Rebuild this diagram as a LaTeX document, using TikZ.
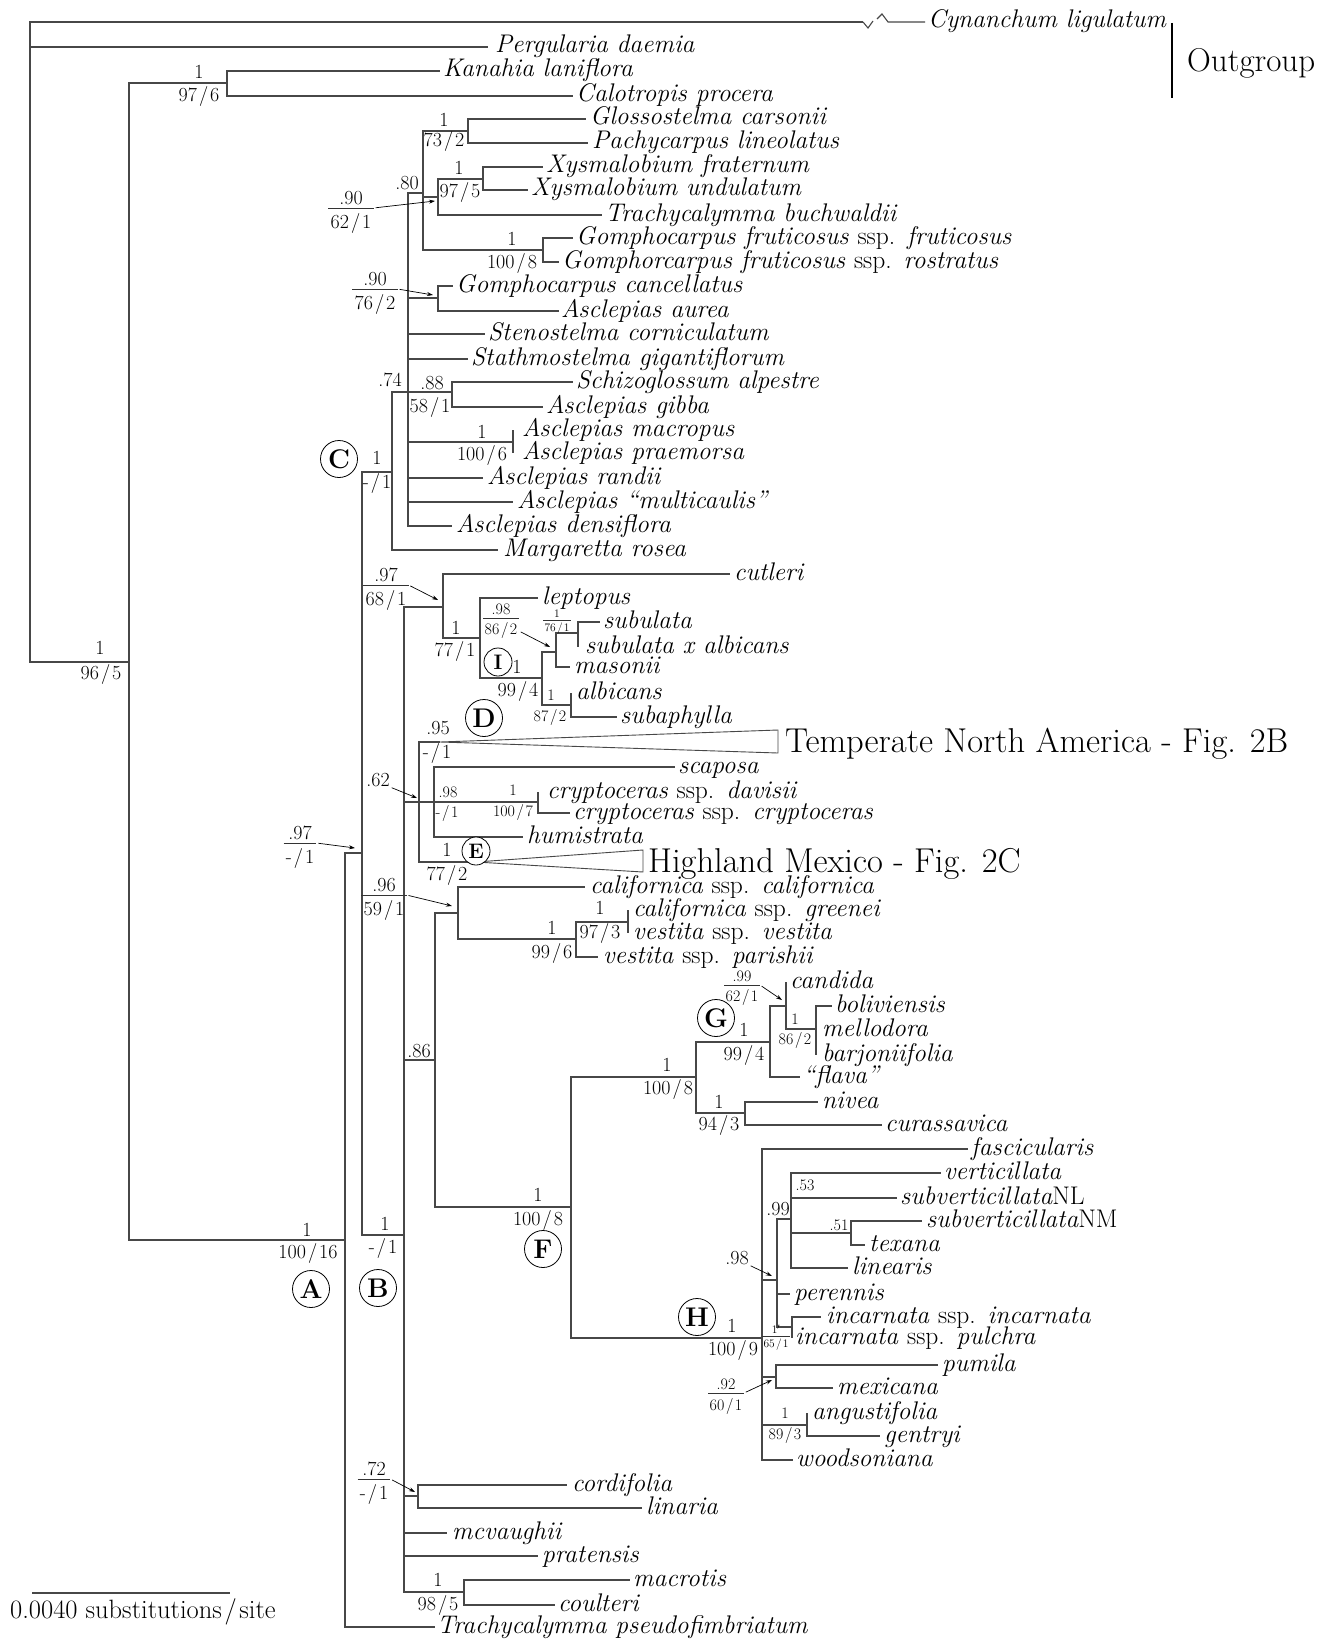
\documentclass[tikz,border=0pt]{standalone}
\usetikzlibrary{arrows.meta}
\newcommand\bd[2]{#1\kern.1em/\kern.1em#2}
\newcommand\sspx{{\upshape ssp.}}
\begin{document}
\begin{tikzpicture}[x=1pt,y=-1pt,
  br/.style={line width=1.1pt, draw=black!72},
  tx/.style={anchor=base west, inner sep=0pt, yshift=-6pt, font=\fontsize{25.5}{28}\selectfont\itshape},
  lab/.style={inner sep=0pt, font=\fontsize{20}{22}\selectfont},
  labm/.style={inner sep=0pt, font=\fontsize{16}{18}\selectfont},
  fnL/.style={anchor=south, inner xsep=0pt, inner ysep=3.4pt, font=\fontsize{20}{22}\selectfont},
  fdL/.style={anchor=north, inner xsep=2pt, inner ysep=5.6pt, font=\fontsize{20}{22}\selectfont},
  fnM/.style={anchor=south, inner xsep=0pt, inner ysep=2.7pt, font=\fontsize{16}{18}\selectfont},
  fdM/.style={anchor=north, inner xsep=1.5pt, inner ysep=4.8pt, font=\fontsize{16}{18}\selectfont},
  fnS/.style={anchor=south, inner xsep=0pt, inner ysep=2pt, font=\fontsize{11.5}{12}\selectfont},
  fdS/.style={anchor=north, inner xsep=1pt, inner ysep=2.6pt, font=\fontsize{11.5}{12}\selectfont},
  fbar/.style={line width=0.7pt, draw=black!80},
  arr/.style={-{Stealth[length=6pt,width=4pt]}, line width=0.7pt, shorten <=2pt},
  circ/.style={circle, draw, fill=white, line width=0.8pt, minimum size=37pt, inner sep=0pt, font=\fontsize{27}{28}\selectfont\bfseries},
  circs/.style={circle, draw, fill=white, line width=0.8pt, minimum size=28pt, inner sep=0pt, font=\fontsize{21}{22}\selectfont\bfseries},
  big/.style={anchor=base west, inner sep=0pt, font=\fontsize{34.5}{36}\selectfont}
]
\newcommand\leaf[5]{\coordinate (#1) at (#2,#3); \node[tx] (#1t) at (#4,#3) {#5};}
\newcommand\fr[6]{\node[fn#4] (#1n) at (#2,#3) {#5}; \node[fd#4] (#1d) at (#2,#3) {#6}; \draw[fbar] (#1d.north west) -- (#1d.north east);}
\fill[white] (0,0) rectangle (1333,1640);
\useasboundingbox (0,0) rectangle (1333,1640);

% ---------- internal nodes
\coordinate (n0) at (30,47);
\coordinate (n1) at (129,662);
\coordinate (n2) at (227,83);
\coordinate (nA) at (345,1240);
\coordinate (n3) at (362,853);
\coordinate (nC) at (392,472);
\coordinate (n74) at (408,392);
\coordinate (n80) at (423,193);
\coordinate (n73) at (468,131);
\coordinate (n975) at (438,197);
\coordinate (nX) at (483,179);
\coordinate (nGF) at (543,250);
\coordinate (nGC) at (438,298);
\coordinate (n88) at (452,392);
\coordinate (nMac) at (513,442);
\coordinate (nB) at (404,1235);
\coordinate (nDc) at (443,607);
\coordinate (nI) at (480,638);
\coordinate (n994) at (542,678);
\coordinate (n98) at (556,652);
\coordinate (nSub) at (578,633);
\coordinate (n872) at (571,705);
\coordinate (n62) at (419,802);
\coordinate (tna) at (440,742);
\coordinate (nScap) at (434,802);
\coordinate (nCry) at (538,802);
\coordinate (hme) at (476,862);
\coordinate (n86) at (435,1060);
\coordinate (n96) at (458,913);
\coordinate (n996) at (576,939);
\coordinate (n973) at (628,922);
\coordinate (nF) at (571,1207);
\coordinate (n1008) at (696,1077);
\coordinate (nG) at (770,1042);
\coordinate (n99) at (786,1006);
\coordinate (n862) at (816,1029);
\coordinate (n943) at (745,1113);
\coordinate (nH) at (762,1338);
\coordinate (n98b) at (777,1280);
\coordinate (n99b) at (791,1219);
\coordinate (n51) at (851,1233);
\coordinate (nInc) at (792,1327);
\coordinate (n92) at (776,1377);
\coordinate (n893) at (807,1425);
\coordinate (n72) at (418,1496);
\coordinate (nMC) at (464,1592);

% ---------- leaves
\coordinate (cynb) at (863,22);
\coordinate (cyn) at (925,22);
\node[tx] (cynt) at (928,22) {Cynanchum ligulatum};
\leaf{perg}{488}{47}{495}{Pergularia daemia}
\leaf{kan}{440}{71}{443}{Kanahia laniflora}
\leaf{cal}{573}{96}{576}{Calotropis procera}
\leaf{glo}{586}{119}{590}{Glossostelma carsonii}
\leaf{pach}{588}{143}{592}{Pachycarpus lineolatus}
\leaf{xfr}{543}{167}{546}{Xysmalobium fraternum}
\leaf{xun}{528}{190}{531}{Xysmalobium undulatum}
\leaf{tbu}{602}{215}{605}{Trachycalymma buchwaldii}
\leaf{gff}{573}{238}{576}{Gomphocarpus fruticosus \sspx{} fruticosus}
\leaf{gfr}{559}{262}{562}{Gomphorcarpus fruticosus \sspx{} rostratus}
\leaf{gca}{453}{286}{456}{Gomphocarpus cancellatus}
\leaf{aau}{559}{311}{561}{Asclepias aurea}
\leaf{ste}{485}{334}{488}{Stenostelma corniculatum}
\leaf{sta}{468}{359}{471}{Stathmostelma gigantiflorum}
\leaf{sch}{573}{382}{576}{Schizoglossum alpestre}
\leaf{gib}{543}{407}{546}{Asclepias gibba}
\leaf{mac}{513}{430}{522}{Asclepias macropus}
\leaf{pra}{513}{453}{522}{Asclepias praemorsa}
\leaf{ran}{483}{478}{487}{Asclepias randii}
\leaf{mul}{513}{502}{517}{Asclepias “multicaulis”}
\leaf{den}{452}{526}{456}{Asclepias densiflora}
\leaf{mar}{498}{550}{503}{Margaretta rosea}
\leaf{cut}{730}{574}{734}{cutleri}
\leaf{lep}{538}{598}{542}{leptopus}
\leaf{sub}{600}{622}{603}{subulata}
\leaf{sxa}{578}{647}{585}{subulata x albicans}
\leaf{mas}{570}{667}{574}{masonii}
\leaf{alb}{571}{693}{576}{albicans}
\leaf{sph}{617}{717}{620}{subaphylla}
\leaf{sca}{675}{767}{678}{scaposa}
\leaf{dav}{538}{792}{547}{cryptoceras \sspx{} davisii}
\leaf{cry}{570}{813}{573}{cryptoceras \sspx{} cryptoceras}
\leaf{hum}{523}{837}{527}{humistrata}
\leaf{cca}{585}{887}{590}{californica \sspx{} californica}
\leaf{gre}{628}{910}{633}{californica \sspx{} greenei}
\leaf{ves}{628}{933}{633}{vestita \sspx{} vestita}
\leaf{par}{598}{957}{603}{vestita \sspx{} parishii}
\leaf{can}{786}{982}{790}{candida}
\leaf{bol}{832}{1006}{835}{boliviensis}
\leaf{mel}{816}{1030}{822}{mellodora}
\leaf{bar}{816}{1055}{822}{barjoniifolia}
\leaf{fla}{800}{1077}{803}{“flava”}
\leaf{niv}{818}{1102}{822}{nivea}
\leaf{cur}{882}{1125}{885}{curassavica}
\leaf{fas}{968}{1149}{971}{fascicularis}
\leaf{ver}{941}{1173}{944}{verticillata}
\leaf{snl}{897}{1198}{900}{subverticillata{\upshape NL}}
\leaf{snm}{922}{1221}{926}{subverticillata{\upshape NM}}
\leaf{tex}{865}{1245}{869}{texana}
\leaf{lin}{848}{1268}{852}{linearis}
\leaf{per}{790}{1294}{794}{perennis}
\leaf{inc}{821}{1317}{826}{incarnata \sspx{} incarnata}
\leaf{pul}{792}{1338}{795}{incarnata \sspx{} pulchra}
\leaf{pum}{938}{1365}{942}{pumila}
\leaf{mex}{833}{1388}{837}{mexicana}
\leaf{ang}{807}{1413}{812}{angustifolia}
\leaf{gen}{880}{1436}{884}{gentryi}
\leaf{woo}{793}{1460}{796}{woodsoniana}
\leaf{cor}{567}{1485}{572}{cordifolia}
\leaf{lina}{642}{1508}{646}{linaria}
\leaf{mcv}{447}{1533}{452}{mcvaughii}
\leaf{prt}{538}{1556}{542}{pratensis}
\leaf{mcr}{630}{1580}{633}{macrotis}
\leaf{cou}{555}{1605}{558}{coulteri}
\leaf{tps}{435}{1627}{437}{Trachycalymma pseudofimbriatum}

% ---------- branches
\foreach \p/\c in {n0/cynb, n0/perg, n0/n1, n1/n2, n1/nA, n2/kan, n2/cal,
  nA/n3, nA/tps, n3/nC, n3/nB, nC/n74, nC/mar,
  n74/n80, n74/nGC, n74/ste, n74/sta, n74/n88, n74/nMac, n74/ran, n74/mul, n74/den,
  n80/n73, n80/n975, n80/nGF, n73/glo, n73/pach, n975/nX, n975/tbu, nX/xfr, nX/xun,
  nGF/gff, nGF/gfr, nGC/gca, nGC/aau, n88/sch, n88/gib, nMac/mac, nMac/pra,
  nB/nDc, nB/n62, nB/n86, nB/n72, nB/mcv, nB/prt, nB/nMC,
  nDc/cut, nDc/nI, nI/lep, nI/n994, n994/n98, n994/n872, n98/nSub, n98/mas,
  nSub/sub, nSub/sxa, n872/alb, n872/sph,
  n62/tna, n62/nScap, n62/hme, nScap/sca, nScap/nCry, nScap/hum, nCry/dav, nCry/cry,
  n86/n96, n86/nF, n96/cca, n96/n996, n996/n973, n996/par, n973/gre, n973/ves,
  nF/n1008, nF/nH, n1008/nG, n1008/n943, nG/n99, nG/fla, n99/can, n99/n862,
  n862/bol, n862/mel, n862/bar, n943/niv, n943/cur,
  nH/fas, nH/n98b, nH/n92, nH/n893, nH/woo, n98b/n99b, n98b/per, n98b/nInc,
  n99b/ver, n99b/snl, n99b/n51, n99b/lin, n51/snm, n51/tex, nInc/inc, nInc/pul,
  n92/pum, n92/mex, n893/ang, n893/gen, n72/cor, n72/lina, nMC/mcr, nMC/cou}
  \draw[br] (\p) |- (\c);

% broken Cynanchum branch
\draw[br] (cynb) -- ++(5,6) -- ++(5,-7);
\draw[br] (cyn) -- ++(-37,0) -- ++(-6,-8) -- ++(-5,5);

% collapsed clades
\coordinate (tnaU) at (778,730);
\coordinate (tnaL) at (778,753);
\draw[br, line width=0.9pt] (tna) -- (tnaU) -- (tnaL) -- cycle;
\node[big, yshift=-10pt] (tnaT) at (785,742) {Temperate North America - Fig. 2B};
\coordinate (hmeU) at (643,850);
\coordinate (hmeL) at (643,872);
\draw[br, line width=0.9pt] (hme) -- (hmeU) -- (hmeL) -- cycle;
\node[big, yshift=-10pt] (hmeT) at (648,862) {Highland Mexico - Fig. 2C};

% ---------- support values
\node[lab] (s1a) at (199,72) {1};        \node[lab] (s1b) at (199,97) {\bd{97}{6}};
\node[lab] (s2a) at (100,648) {1};       \node[lab] (s2b) at (101,674) {\bd{96}{5}};
\node[lab] (s3a) at (307,1230) {1};      \node[lab] (s3b) at (308,1253) {\bd{100}{16}};
\node[lab] (s4a) at (385,1224) {1};      \node[lab] (s4b) at (383,1248) {\bd{-}{1}};
\node[lab] (s5a) at (377,458) {1};       \node[lab] (s5b) at (377,483) {\bd{-}{1}};
\node[lab] (s6) at (390,380) {.74};
\node[lab] (s7) at (407,183) {.80};
\node[lab] (s8a) at (444,120) {1};       \node[lab] (s8b) at (444,142) {\bd{73}{2}};
\node[lab] (s9a) at (459,168) {1};       \node[lab] (s9b) at (460,192) {\bd{97}{5}};
\node[lab] (s10a) at (512,239) {1};      \node[lab] (s10b) at (512,263) {\bd{100}{8}};
\node[lab] (s11a) at (432,383) {.88};    \node[lab] (s11b) at (430,407) {\bd{58}{1}};
\node[lab] (s12a) at (482,432) {1};      \node[lab] (s12b) at (482,455) {\bd{100}{6}};
\node[lab] (s13a) at (456,628) {1};      \node[lab] (s13b) at (455,651) {\bd{77}{1}};
\node[lab] (s14a) at (517,667) {1};      \node[lab] (s14b) at (518,691) {\bd{99}{4}};
\node[labm] (s15a) at (551,695) {1};     \node[labm] (s15b) at (550,717) {\bd{87}{2}};
\node[lab] (s16) at (378,780) {.62};
\node[lab] (s17a) at (438,728) {.95};    \node[lab] (s17b) at (437,753) {\bd{-}{1}};
\node[labm] (s18a) at (448,792) {.98};   \node[labm] (s18b) at (447,813) {\bd{-}{1}};
\node[labm] (s19a) at (513,790) {1};     \node[labm] (s19b) at (513,812) {\bd{100}{7}};
\node[lab] (s20a) at (447,850) {1};      \node[lab] (s20b) at (447,875) {\bd{77}{2}};
\node[lab] (s21) at (419,1051) {.86};
\node[lab] (s22a) at (552,928) {1};      \node[lab] (s22b) at (552,953) {\bd{99}{6}};
\node[lab] (s23a) at (600,908) {1};      \node[lab] (s23b) at (600,933) {\bd{97}{3}};
\node[lab] (s24a) at (538,1195) {1};     \node[lab] (s24b) at (538,1220) {\bd{100}{8}};
\node[lab] (s25a) at (667,1065) {1};     \node[lab] (s25b) at (668,1089) {\bd{100}{8}};
\node[lab] (s26a) at (744,1030) {1};     \node[lab] (s26b) at (744,1055) {\bd{99}{4}};
\node[labm] (s27a) at (795,1019) {1};    \node[labm] (s27b) at (795,1040) {\bd{86}{2}};
\node[lab] (s28a) at (719,1102) {1};     \node[lab] (s28b) at (719,1125) {\bd{94}{3}};
\node[lab] (s29a) at (732,1326) {1};     \node[lab] (s29b) at (733,1350) {\bd{100}{9}};
\node[labm] (s30) at (805,1185) {.53};
\node[labm] (s31) at (839,1225) {.51};
\node[lab] (s32) at (778,1209) {.99};
\node[lab] (s33) at (737,1258) {.98};
\node[labm] (s34a) at (785,1413) {1};    \node[labm] (s34b) at (785,1435) {\bd{89}{3}};
\node[lab] (s35a) at (438,1580) {1};     \node[lab] (s35b) at (438,1605) {\bd{98}{5}};

% fraction labels
\fr{f1}{351}{208}{L}{.90}{\bd{62}{1}}
\fr{f2}{375}{289}{L}{.90}{\bd{76}{2}}
\fr{f3}{386}{585}{L}{.97}{\bd{68}{1}}
\fr{f4}{300}{843}{L}{.97}{\bd{-}{1}}
\fr{f5}{384}{895}{L}{.96}{\bd{59}{1}}
\fr{f6}{501}{618}{M}{.98}{\bd{86}{2}}
\fr{f7}{557}{620}{S}{1}{\bd{76}{1}}
\fr{f8}{742}{985}{M}{.99}{\bd{62}{1}}
\fr{f9}{726}{1393}{M}{.92}{\bd{60}{1}}
\fr{f10}{374}{1479}{L}{.72}{\bd{-}{1}}
\fr{f11}{776}{1336}{S}{1$'$}{\bd{65}{1}}

% arrows
\coordinate (a1) at (435,201);
\coordinate (a2) at (433,295);
\coordinate (a3) at (438,600);
\coordinate (a4) at (355,848);
\coordinate (a5) at (452,906);
\coordinate (a6) at (550,647);
\coordinate (a8) at (782,1000);
\coordinate (a9) at (772,1380);
\coordinate (a10) at (415,1492);
\coordinate (a16) at (417,798);
\coordinate (a33) at (772,1276);
\draw[arr] (f1d.north east) -- (a1);
\draw[arr] (f2d.north east) -- (a2);
\draw[arr] (f3d.north east) -- (a3);
\draw[arr] (f4d.north east) -- (a4);
\draw[arr] (f5d.north east) -- (a5);
\draw[arr] (f6d.east) -- (a6);
\draw[arr] (f8d.north east) -- (a8);
\draw[arr] (f9d.north east) -- (a9);
\draw[arr] (f10d.north east) -- (a10);
\draw[arr] (s16.south east) -- (a16);
\draw[arr] (s33.south east) -- (a33);

% clade circles
\node[circ] (cA) at (311,1289) {A};
\node[circ] (cB) at (378,1288) {B};
\node[circ] (cC) at (339,459) {C};
\node[circ] (cD) at (484,718) {D};
\node[circs] (cE) at (476,851) {E};
\node[circ] (cF) at (543,1249) {F};
\node[circ] (cG) at (716,1018) {G};
\node[circ] (cH) at (697,1317) {H};
\node[circs] (cI) at (498,662) {I};

% outgroup bar
\coordinate (og1) at (1172,23);
\coordinate (og2) at (1172,98);
\draw[line width=1.5pt] (og1) -- (og2);
\node[anchor=base west, inner sep=0pt, font=\fontsize{33}{35}\selectfont] (ogt) at (1187,72) {Outgroup};

% scale bar
\coordinate (sb1) at (32,1593);
\coordinate (sb2) at (230,1593);
\draw[br] (sb1) -- (sb2);
\node[anchor=base west, inner sep=0pt, font=\fontsize{26.5}{28}\selectfont] (sbt) at (10,1618) {0.0040 substitutions\kern.1em/\kern.1em site};
\end{tikzpicture}
\end{document}
